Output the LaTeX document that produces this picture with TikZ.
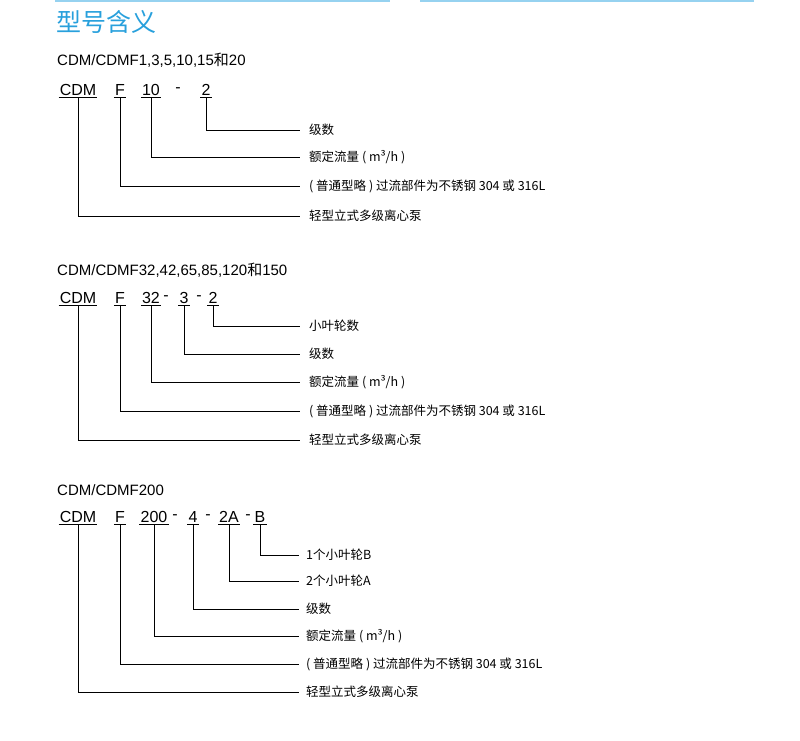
\documentclass[tikz,border=0pt]{standalone}
\usepackage{fontspec}
\setmainfont{Liberation Sans}
\newfontfamily\cjk{Noto Sans CJK SC}
\definecolor{hdr}{RGB}{40,160,220}
\definecolor{hline}{RGB}{150,210,240}
\begin{document}
\begin{tikzpicture}[x=1pt,y=-1pt,
  code/.style={font=\fontsize{16}{16}\selectfont, inner xsep=1pt, inner ysep=1.5pt, text height=11.5pt, text depth=0pt, anchor=center},
  hyph/.style={font=\fontsize{16}{16}\selectfont, inner sep=0pt},
  lab/.style={font=\cjk\fontsize{12.5}{13}\selectfont, anchor=west, inner sep=1pt},
  sub/.style={font=\fontsize{15}{15}\selectfont, anchor=west, inner sep=0pt},
  ul/.style={line width=0.8pt},
  conn/.style={line width=0.8pt}]
\useasboundingbox (0,0) rectangle (800,741);
\draw[hline, line width=2pt] (55,1) -- (390,1);
\draw[hline, line width=2pt] (420,1) -- (754,1);
\node[font=\cjk\fontsize{25}{25}\selectfont, text=hdr, anchor=west, inner sep=0pt] (title) at (56,22) {型号含义};
% ---- section 1
\node[sub] (s1) at (57,60) {CDM/CDMF1,3,5,10,15{\cjk 和}20};
\node[code] (a1) at (78,90) {CDM};
\node[code] (a2) at (120,90) {F};
\node[code] (a3) at (151,90) {10};
\node[hyph] (a4) at (178,90) {-};
\node[code] (a5) at (206,90) {2};
\foreach \n in {a1,a2,a3,a5} \draw[ul] (\n.south west) -- (\n.south east);
\node[lab] (l1) at (308,130) {级数};
\node[lab] (l2) at (308,157) {额定流量 ( m³/h )};
\node[lab] (l3) at (308,186) {( 普通型略 ) 过流部件为不锈钢 304 或 316L};
\node[lab] (l4) at (308,216) {轻型立式多级离心泵};
\draw[conn] (a5.south) |- ([xshift=-8pt]l1.west);
\draw[conn] (a3.south) |- ([xshift=-8pt]l2.west);
\draw[conn] (a2.south) |- ([xshift=-8pt]l3.west);
\draw[conn] (a1.south) |- ([xshift=-8pt]l4.west);
% ---- section 2
\node[sub] (s2) at (57,270) {CDM/CDMF32,42,65,85,120{\cjk 和}150};
\node[code] (b1) at (78,298) {CDM};
\node[code] (b2) at (120,298) {F};
\node[code] (b3) at (151,298) {32};
\node[hyph] (b4) at (166,298) {-};
\node[code] (b5) at (184,298) {3};
\node[hyph] (b6) at (199,298) {-};
\node[code] (b7) at (213,298) {2};
\foreach \n in {b1,b2,b3,b5,b7} \draw[ul] (\n.south west) -- (\n.south east);
\node[lab] (m1) at (308,326) {小叶轮数};
\node[lab] (m2) at (308,354) {级数};
\node[lab] (m3) at (308,382) {额定流量 ( m³/h )};
\node[lab] (m4) at (308,411) {( 普通型略 ) 过流部件为不锈钢 304 或 316L};
\node[lab] (m5) at (308,440) {轻型立式多级离心泵};
\draw[conn] (b7.south) |- ([xshift=-8pt]m1.west);
\draw[conn] (b5.south) |- ([xshift=-8pt]m2.west);
\draw[conn] (b3.south) |- ([xshift=-8pt]m3.west);
\draw[conn] (b2.south) |- ([xshift=-8pt]m4.west);
\draw[conn] (b1.south) |- ([xshift=-8pt]m5.west);
% ---- section 3
\node[sub] (s3) at (57,490) {CDM/CDMF200};
\node[code] (c1) at (78,517) {CDM};
\node[code] (c2) at (120,517) {F};
\node[code] (c3) at (154,517) {200};
\node[hyph] (c4) at (175,517) {-};
\node[code] (c5) at (193,517) {4};
\node[hyph] (c6) at (208,517) {-};
\node[code] (c7) at (229,517) {2A};
\node[hyph] (c8) at (248,517) {-};
\node[code] (c9) at (260,517) {B};
\foreach \n in {c1,c2,c3,c5,c7,c9} \draw[ul] (\n.south west) -- (\n.south east);
\node[lab] (n1) at (305,555) {1个小叶轮B};
\node[lab] (n2) at (305,581) {2个小叶轮A};
\node[lab] (n3) at (305,609) {级数};
\node[lab] (n4) at (305,636) {额定流量 ( m³/h )};
\node[lab] (n5) at (305,664) {( 普通型略 ) 过流部件为不锈钢 304 或 316L};
\node[lab] (n6) at (305,692) {轻型立式多级离心泵};
\draw[conn] (c9.south) |- ([xshift=-6pt]n1.west);
\draw[conn] (c7.south) |- ([xshift=-6pt]n2.west);
\draw[conn] (c5.south) |- ([xshift=-6pt]n3.west);
\draw[conn] (c3.south) |- ([xshift=-6pt]n4.west);
\draw[conn] (c2.south) |- ([xshift=-6pt]n5.west);
\draw[conn] (c1.south) |- ([xshift=-6pt]n6.west);
\end{tikzpicture}
\end{document}
